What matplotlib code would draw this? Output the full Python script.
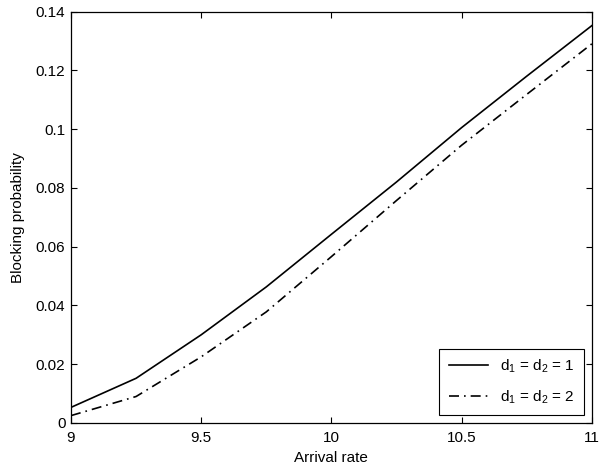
import matplotlib
matplotlib.use("Agg")
import matplotlib.pyplot as plt

plt.rcParams['font.family'] = ['Liberation Sans', 'DejaVu Sans']
plt.rcParams['mathtext.fontset'] = 'custom'
plt.rcParams['mathtext.rm'] = 'Liberation Sans'

arrival_rate = [9.0, 9.25, 9.5, 9.75, 10.0, 10.25, 10.5, 10.75, 11.0]
blocking_d1 = [0.0053, 0.0152, 0.0300, 0.0463, 0.0642, 0.0820, 0.1005, 0.1180, 0.1352]
blocking_d2 = [0.0025, 0.0090, 0.0225, 0.0378, 0.0566, 0.0757, 0.0945, 0.1118, 0.1290]
labels = [r'd$_1$ = d$_2$ = 1', r'd$_1$ = d$_2$ = 2']
x_ticks = [9, 9.5, 10, 10.5, 11]
x_tick_labels = ['9', '9.5', '10', '10.5', '11']
y_ticks = [0, 0.02, 0.04, 0.06, 0.08, 0.1, 0.12, 0.14]
y_tick_labels = ['0', '0.02', '0.04', '0.06', '0.08', '0.1', '0.12', '0.14']

fig = plt.figure(figsize=(5.99, 4.71), dpi=100)
ax = fig.add_axes([0.1185, 0.102, 0.8695, 0.8735])

ax.plot(arrival_rate, blocking_d1, color='black', lw=1.2, ls='-', label=labels[0])
ax.plot(arrival_rate, blocking_d2, color='black', lw=1.2, ls=(0, (6, 3, 1, 3)), label=labels[1])

ax.set_xlim(9, 11)
ax.set_ylim(0, 0.14)
ax.set_xticks(x_ticks)
ax.set_xticklabels(x_tick_labels)
ax.set_yticks(y_ticks)
ax.set_yticklabels(y_tick_labels)
ax.tick_params(direction='in', length=4, width=0.8, top=True, right=True, labelsize=11)
ax.tick_params(axis='x', pad=6)
ax.tick_params(axis='y', pad=4)
for s in ax.spines.values():
    s.set_linewidth(0.9)

ax.set_xlabel('Arrival rate', fontsize=11, labelpad=4)
ax.set_ylabel('Blocking probability', fontsize=11, labelpad=8)

leg = ax.legend(loc='lower right', fontsize=11, frameon=True, fancybox=False,
                edgecolor='black', framealpha=1, handlelength=2.6,
                borderaxespad=0.5, labelspacing=0.85, handletextpad=0.8,
                borderpad=0.6)
leg.get_frame().set_linewidth(0.8)

fig.savefig('out.png', dpi=100)
